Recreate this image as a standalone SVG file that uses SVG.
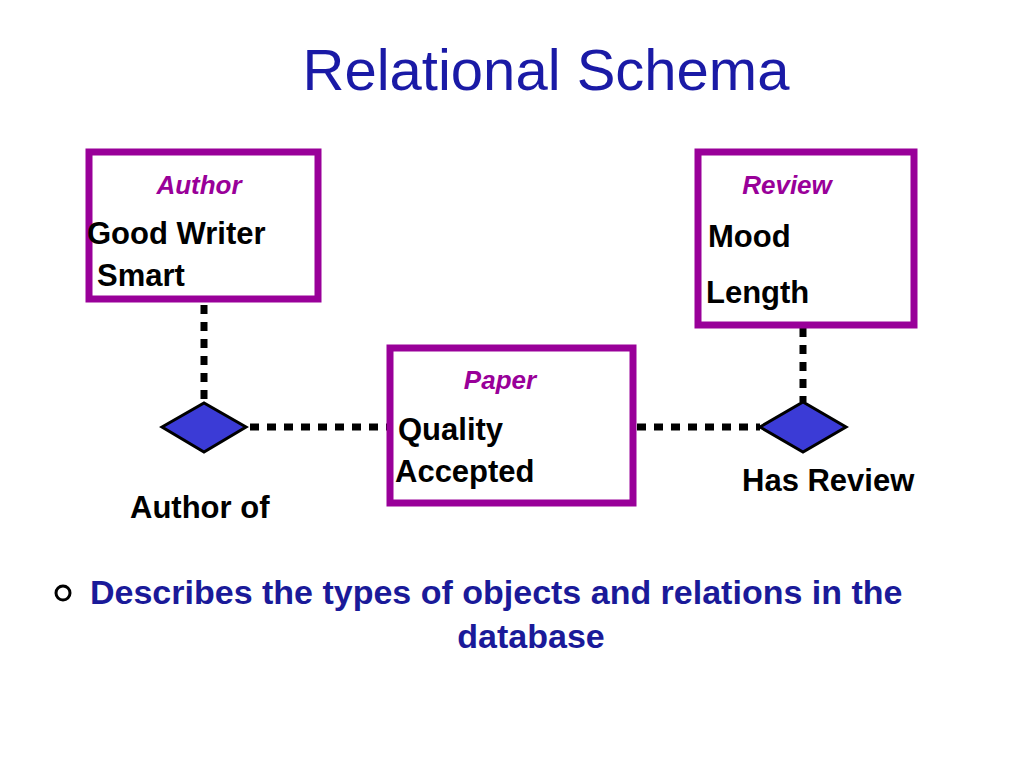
<svg xmlns="http://www.w3.org/2000/svg" width="1024" height="768" viewBox="0 0 1024 768">
<style>
.box{fill:#fff;stroke:#990099;stroke-width:7}
.dia{fill:#3b3bd6;stroke:#000;stroke-width:3}
.dot{stroke:#000;stroke-width:7;stroke-dasharray:9 8;fill:none}
.lbl{font-family:"Liberation Sans",Arial,sans-serif;font-weight:bold;font-style:italic;font-size:26px;fill:#990099;text-anchor:middle}
.att{font-family:"Liberation Sans",Arial,sans-serif;font-weight:bold;font-size:31px;fill:#000}
.blue{font-family:"Liberation Sans",Arial,sans-serif;font-weight:bold;font-size:34px;fill:#1a1a99}
</style>
<rect width="1024" height="768" fill="#fff"/>
<text x="546" y="90" font-family="Liberation Sans,Arial,sans-serif" font-size="58" fill="#1a1aa6" text-anchor="middle">Relational Schema</text>
<g id="connectors">
<line class="dot" x1="204" y1="305" x2="204" y2="403"/>
<line class="dot" x1="250" y1="427" x2="390" y2="427"/>
<line class="dot" x1="637" y1="427" x2="760" y2="427"/>
<line class="dot" x1="803" y1="328" x2="803" y2="402"/>
</g>
<g id="author"><rect class="box" x="89" y="152" width="229" height="147"/>
<text class="lbl" x="199" y="194">Author</text>
<text class="att" x="87" y="244">Good Writer</text>
<text class="att" x="97" y="286">Smart</text></g>
<g id="review"><rect class="box" x="698" y="152" width="216" height="173"/>
<text class="lbl" x="787" y="194">Review</text>
<text class="att" x="708" y="247">Mood</text>
<text class="att" x="706" y="303">Length</text></g>
<g id="paper"><rect class="box" x="390" y="348" width="243" height="155"/>
<text class="lbl" x="500" y="389">Paper</text>
<text class="att" x="398" y="440">Quality</text>
<text class="att" x="395" y="482">Accepted</text></g>
<g id="authorof"><polygon class="dia" points="162,427 204,403 246,427 204,452"/>
<text class="att" x="130" y="518">Author of</text></g>
<g id="hasreview"><polygon class="dia" points="760,427 803,402 846,427 803,452"/>
<text class="att" x="742" y="491">Has Review</text></g>
<circle cx="63" cy="593" r="7" fill="none" stroke="#000" stroke-width="3"/>
<text class="blue" x="90" y="604">Describes the types of objects and relations in the</text>
<text class="blue" x="531" y="648" text-anchor="middle">database</text>
</svg>
